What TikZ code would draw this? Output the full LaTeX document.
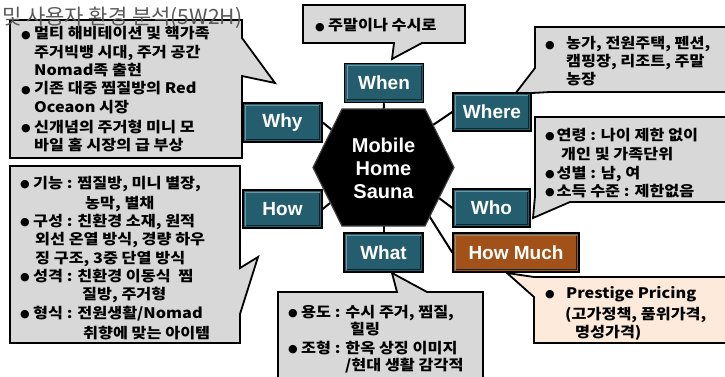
\documentclass[tikz,border=0pt]{standalone}
\usepackage{fontspec}
\setmainfont{Liberation Sans}
\newfontfamily\kr[FakeStretch=1.12]{Noto Sans CJK KR}
\newfontfamily\krt{Noto Sans CJK KR}
\newfontfamily\djv{DejaVu Sans}
\definecolor{tealc}{RGB}{36,94,110}
\definecolor{brownc}{RGB}{162,82,25}
\definecolor{calg}{RGB}{216,216,216}
\definecolor{peach}{RGB}{253,234,218}
\newcommand\bl{\makebox[13pt][l]{\raisebox{0.5pt}{\djv\fontsize{11}{10}\selectfont ●}}}
\newcommand\bls{\makebox[11.5pt][l]{\raisebox{0.5pt}{\djv\fontsize{11}{10}\selectfont ●}}}
\newcommand\blw{\makebox[21pt][l]{\raisebox{0.5pt}{\djv\fontsize{11}{10}\selectfont ●}}}
\tikzset{
  wbox/.style={draw=black, line width=1.5pt, fill=tealc, text=white,
    font=\bfseries\fontsize{19}{19}\selectfont, minimum width=79pt,
    minimum height=39pt, inner sep=0pt,
    path picture={\draw[white!35!tealc, line width=1pt]
      ([xshift=2.5pt,yshift=2.5pt]path picture bounding box.south west) |-
      ([xshift=-2.5pt,yshift=-2.5pt]path picture bounding box.north east);
      \draw[black!60!tealc, line width=1pt]
      ([xshift=2.5pt,yshift=2.5pt]path picture bounding box.south west) -|
      ([xshift=-2.5pt,yshift=-2.5pt]path picture bounding box.north east);}},
  callout/.style={draw=black, line width=1.8pt, fill=calg, line join=miter},
  ct/.style={anchor=base west, inner sep=0pt, font=\kr\bfseries\fontsize{14.5}{18}\selectfont},
  conn/.style={draw=black, line width=2pt}
}
\begin{document}
\begin{tikzpicture}[x=1pt,y=-1pt]
\useasboundingbox (0,0) rectangle (725,377);
% callout shapes
\draw[callout] (10,20) -- (242,20) -- (242,38) -- (275,83) -- (242,76) -- (242,158) -- (10,158) -- cycle;
\draw[callout] (10,166) -- (240,166) -- (240,268) -- (258,257) -- (240,314) -- (240,343) -- (10,343) -- cycle;
\draw[callout] (303,5) -- (465,5) -- (465,43) -- (422,43) -- (392,59) -- (394,43) -- (303,43) -- cycle;
\draw[callout] (535,27) -- (732,27) -- (732,92) -- (550,92) -- (515,94) -- (535,68) -- cycle;
\draw[callout] (535,117) -- (732,117) -- (732,202) -- (570,202) -- (533,218) -- (535,196) -- cycle;
\draw[callout, fill=peach] (534,277) -- (732,277) -- (732,343) -- (534,343) -- (534,297) -- (507,273) -- cycle;
\draw[callout] (278,292) -- (397,292) -- (392,273) -- (427,292) -- (483,292) -- (483,390) -- (278,390) -- cycle;
% nodes
\node[wbox] (When) at (384,83) {When};
\node[wbox] (Why) at (282.5,122.5) {Why};
\node[wbox, minimum width=78pt, minimum height=38pt] (Where) at (492,112) {Where};
\node[wbox, minimum height=38pt] (How) at (282.5,209) {How};
\node[wbox, minimum width=77pt, minimum height=38pt] (Who) at (491.5,208) {Who};
\node[wbox] (What) at (383.5,252.5) {What};
\node[wbox, fill=brownc, minimum width=126pt] (HowMuch) at (516,252.5) {How Much};
% hexagon anchor points
\coordinate (hT) at (383.5,112);
\coordinate (hB) at (383.5,223);
\coordinate (hWhy) at (332,130);
\coordinate (hWhere) at (433,125);
\coordinate (hHow) at (330,203);
\coordinate (hWho) at (439,198);
\coordinate (hHM) at (428,214);
\draw[conn] (When.south) -- (hT);
\draw[conn] (Why.east) -- (hWhy);
\draw[conn] (Where.west) -- (hWhere);
\draw[conn] (How.east) -- (hHow);
\draw[conn] (Who.west) -- (hWho);
\draw[conn] (What.north) -- (hB);
\draw[conn] (HowMuch.west) -- (hHM);
% hexagon
\draw[fill=black, draw=black!75, line width=1.2pt] (313,167.5) -- (342,109) -- (425,109) -- (454,167.5) -- (425,226) -- (342,226) -- cycle;
\node[align=center, text=white, inner sep=0pt, font=\bfseries\fontsize{20}{23}\selectfont] (hex) at (383.5,168) {Mobile\\Home\\Sauna};
% Why text
\node[ct] (y1) at (21,39) {\bl 멀티 해비테이션 및 핵가족};
\node[ct] (y2) at (34,58) {주거빅뱅 시대, 주거 공간};
\node[ct] (y3) at (34,76) {Nomad족 출현};
\node[ct] (y4) at (21,94) {\bl 기존 대중 찜질방의 Red};
\node[ct] (y5) at (34,113) {Oceaon 시장};
\node[ct] (y6) at (21,132) {\bl 신개념의 주거형 미니 모};
\node[ct] (y7) at (34,150) {바일 홈 시장의 급 부상};
% How text
\node[ct] (h1) at (20,188) {\bl 기능 : 찜질방, 미니 별장,};
\node[ct] (h2) at (85,208) {농막, 별채};
\node[ct] (h3) at (20,226) {\bl 구성 : 친환경 소재, 원적};
\node[ct] (h4) at (35,244) {외선 온열 방식, 경량 하우};
\node[ct] (h5) at (35,263) {징 구조, 3중 단열 방식};
\node[ct] (h6) at (20,281) {\bl 성격 : 친환경 이동식 \ 찜};
\node[ct] (h7) at (82,299) {질방, 주거형};
\node[ct] (h8) at (20,318) {\bl 형식 : 전원생활/Nomad};
\node[ct] (h9) at (83,338) {취향에 맞는 아이템};
% When text
\node[ct] (t1) at (315,31) {\bl 주말이나 수시로};
% Where text
\node[ct] (r1) at (545,49) {\blw 농가, 전원주택, 펜션,};
\node[ct] (r2) at (566,67) {캠핑장, 리조트, 주말};
\node[ct] (r3) at (566,85) {농장};
% Who text
\node[ct] (o1) at (545,140) {\bls 연령 : 나이 제한 없이};
\node[ct] (o2) at (561,159) {개인 및 가족단위};
\node[ct] (o3) at (545,178) {\bls 성별 : 남, 여};
\node[ct] (o4) at (545,196) {\bls 소득 수준 : 제한없음};
% How Much text
\node[ct] (m1) at (545,298) {\blw Prestige Pricing};
\node[ct] (m2) at (565,319) {(고가정책, 품위가격,};
\node[ct] (m3) at (575,337) {명성가격)};
% What text
\node[ct] (a1) at (288,317) {\bl 용도 : 수시 주거, 찜질,};
\node[ct] (a2) at (350,334) {힐링};
\node[ct] (a3) at (288,353) {\bl 조형 : 한옥 상징 이미지};
\node[ct] (a4) at (345,370) {/현대 생활 감각적};
% title
\node[anchor=base west, inner sep=0pt, text=black!65, font=\krt\fontsize{21}{21}\selectfont] (title) at (2,24.5) {및 사용자 환경 분석(5W2H)};
\end{tikzpicture}
\end{document}
